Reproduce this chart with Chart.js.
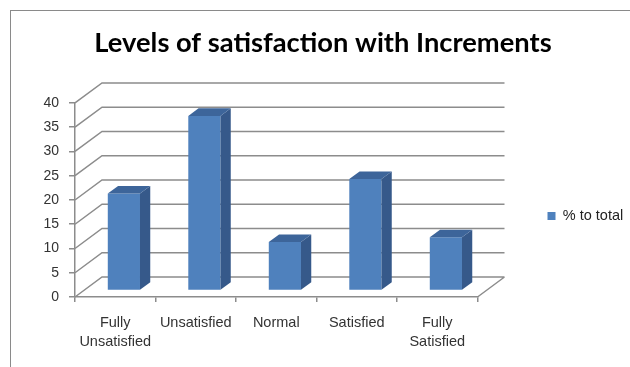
<!DOCTYPE html>
<html>
<head>
<meta charset="utf-8">
<script src="https://cdn.jsdelivr.net/npm/chart.js@4.4.1/dist/chart.umd.min.js"></script>
<style>
  html, body { margin: 0; padding: 0; background: #fff; overflow: hidden; }
  #wrap { position: relative; width: 630px; height: 367px; }
  #frame { position: absolute; left: 10px; top: 10px; width: 700px; height: 400px; border: 1px solid #8a8a8a; }
  #chart { position: absolute; left: 0; top: 0; }
</style>
</head>
<body>
<div id="wrap">
  <div id="frame"></div>
  <canvas id="chart" width="630" height="367"></canvas>
</div>
<script>
// Data
let categories = [["Fully", "Unsatisfied"], "Unsatisfied", "Normal", "Satisfied", ["Fully", "Satisfied"]];
let percentToTotal = [20, 36, 10, 23, 11];
let yTicks = [0, 5, 10, 15, 20, 25, 30, 35, 40];

// 3d look: full depth of the box and where the bars sit inside it
let depth = { x: 27, y: -20 };
let barPlane = 0.32;
let barDepth = 0.38;
let gridColor = "#8c8c8c";

let threeD = {
  id: "threeD",
  beforeDatasetsDraw(chart) {
    let ctx = chart.ctx;
    let area = chart.chartArea;
    let yScale = chart.scales.y;

    ctx.save();
    ctx.strokeStyle = gridColor;
    ctx.lineWidth = 1.5;
    ctx.beginPath();
    yTicks.forEach((v) => {
      let y = yScale.getPixelForValue(v);
      // side wall
      ctx.moveTo(area.left, y);
      ctx.lineTo(area.left + depth.x, y + depth.y);
      // back wall
      ctx.lineTo(area.right + depth.x, y + depth.y);
    });
    // floor right edge
    ctx.moveTo(area.right, area.bottom);
    ctx.lineTo(area.right + depth.x, area.bottom + depth.y);
    ctx.stroke();
    ctx.restore();

    // move bars into the box
    ctx.save();
    ctx.translate(depth.x * barPlane, depth.y * barPlane);
  },
  afterDatasetsDraw(chart) {
    let ctx = chart.ctx;
    let dx = depth.x * barDepth;
    let dy = depth.y * barDepth;

    chart.getDatasetMeta(0).data.forEach((bar) => {
      let p = bar.getProps(["x", "y", "base", "width"], true);
      let left = p.x - p.width / 2;
      let right = p.x + p.width / 2;

      // side
      ctx.fillStyle = "#36598a";
      ctx.beginPath();
      ctx.moveTo(right, p.y);
      ctx.lineTo(right + dx, p.y + dy);
      ctx.lineTo(right + dx, p.base + dy);
      ctx.lineTo(right, p.base);
      ctx.closePath();
      ctx.fill();

      // top
      ctx.fillStyle = "#3d659a";
      ctx.beginPath();
      ctx.moveTo(left, p.y);
      ctx.lineTo(left + dx, p.y + dy);
      ctx.lineTo(right + dx, p.y + dy);
      ctx.lineTo(right, p.y);
      ctx.closePath();
      ctx.fill();
    });

    ctx.restore();
  },
};

let labelFamily = "'Liberation Sans', Arial, sans-serif";

let ctx = document.getElementById("chart").getContext("2d");

let myChart = new Chart(ctx, {
  type: "bar",
  data: {
    labels: categories,
    datasets: [
      {
        label: "% to total",
        data: percentToTotal,
        backgroundColor: "#4f81bd",
        borderWidth: 0,
        barPercentage: 0.4,
        categoryPercentage: 1,
        clip: false,
      },
    ],
  },
  plugins: [threeD],
  options: {
    responsive: false,
    animation: false,
    layout: {
      padding: { left: 14, right: -2, top: 0, bottom: 0 },
    },
    plugins: {
      title: {
        display: true,
        text: "Levels of satisfaction with Increments",
        color: "#000",
        font: { family: "Lato, 'Liberation Sans', sans-serif", size: 27.3, weight: "bold", lineHeight: 1.2 },
        padding: { top: 26.6, bottom: 43.6 },
      },
      legend: {
        display: true,
        position: "right",
        fullSize: false,
        labels: {
          color: "#222",
          font: { family: labelFamily, size: 14.5 },
          boxWidth: 8,
          boxHeight: 8,
          padding: 70,
        },
        title: {
          display: true,
          text: " ",
          font: { size: 10, lineHeight: 1.2 },
          padding: { top: 10, bottom: 10 },
        },
      },
      tooltip: { enabled: false },
    },
    scales: {
      x: {
        grid: {
          drawOnChartArea: false,
          drawTicks: true,
          tickLength: 5,
          color: gridColor,
          lineWidth: 1.5,
        },
        border: { display: true, color: gridColor, width: 1.5 },
        ticks: {
          color: "#333",
          font: { family: labelFamily, size: 14.5, lineHeight: 1.35 },
          padding: 11,
          maxRotation: 0,
          autoSkip: false,
        },
        afterFit: function (scale) {
          scale.height = 70;
        },
      },
      y: {
        min: 0,
        max: 40,
        grid: {
          drawOnChartArea: false,
          drawTicks: true,
          tickLength: 6,
          color: gridColor,
          lineWidth: 1.5,
        },
        border: { display: true, color: gridColor, width: 1.5 },
        ticks: {
          stepSize: 5,
          color: "#333",
          font: { family: labelFamily, size: 14 },
          padding: 10,
        },
        afterFit: function (scale) {
          scale.width = 61;
        },
      },
    },
  },
});
</script>
</body>
</html>
